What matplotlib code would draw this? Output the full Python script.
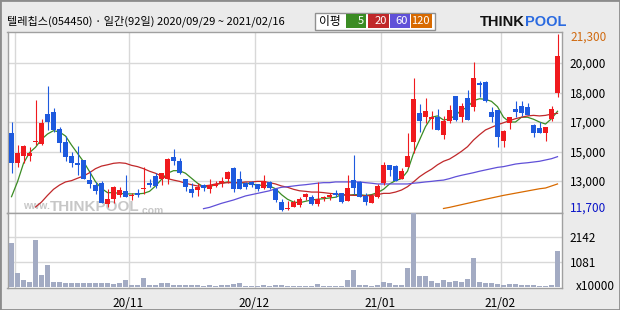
import numpy as np
import matplotlib.pyplot as plt
from matplotlib.patches import Rectangle
from matplotlib.transforms import blended_transform_factory, offset_copy

plt.rcParams['font.family'] = ['Noto Sans CJK KR', 'DejaVu Sans']

title = '텔레칩스(054450) · 일간(92일) 2020/09/29 ~ 2021/02/16'

# daily candles, 2020/09/29 .. 2021/02/16 (92 trading days)
opens = [15890, 14260, 14660, 14660, 15440, 15310, 16930, 17040, 16120, 15420,
         14660, 14290, 14440, 13350, 13080, 13180, 12050, 12310, 12520, 12740,
         12480, 12670, 12840, 13210, 13570, 13390, 13390, 14590, 14370, 13390,
         12880, 12810, 13070, 12880, 13030, 13180, 13430, 14000, 13390, 13180,
         13250, 13140, 12920, 13250, 12850, 12160, 11780, 11910, 12020, 12450,
         12420, 12050, 12360, 12450, 12670, 12630, 12230, 13350, 13250, 12490,
         12120, 12450, 13180, 14150, 14110, 13430, 14080, 15420, 17000, 16790,
         16680, 16760, 15810, 16570, 17910, 16790, 17800, 17300, 18630, 18670,
         17040, 17150, 15490, 16430, 17190, 17370, 17300, 16320, 16180, 15920,
         16650, 18090]
highs = [16500, 15250, 15250, 15130, 17690, 16650, 18450, 17260, 16250, 15740,
         14890, 15200, 14460, 13830, 13260, 13320, 12850, 13020, 12990, 13610,
         12670, 12880, 14080, 13390, 13750, 13750, 14550, 15050, 14550, 13400,
         13180, 13180, 13140, 13430, 13320, 13530, 13820, 14080, 13830, 13230,
         13320, 13140, 13610, 13320, 12880, 12310, 12200, 12270, 12420, 12670,
         12520, 13250, 12490, 12670, 12810, 12640, 13610, 14690, 13320, 12630,
         12600, 13140, 14330, 14180, 14180, 14000, 15920, 18890, 17480, 17800,
         17110, 17220, 16830, 17440, 17930, 17520, 18240, 19760, 18710, 18740,
         17330, 17160, 16040, 16770, 17660, 17660, 17550, 16390, 16500, 16230,
         17370, 21300]
lows = [13750, 14080, 14290, 14400, 15250, 15280, 16070, 15970, 14870, 14400,
        14080, 13610, 13400, 12920, 12600, 12100, 11910, 12120, 12420, 12420,
        12270, 12420, 12600, 12960, 12920, 13070, 13140, 14150, 13680, 12740,
        12450, 12490, 12770, 12670, 12960, 12990, 13210, 12700, 12850, 12880,
        12990, 12770, 12850, 12850, 12160, 11700, 11730, 11870, 11870, 12270,
        12020, 11940, 12230, 12270, 12450, 12120, 12200, 12600, 12430, 11980,
        12100, 12380, 13070, 13570, 13300, 13400, 14050, 14840, 15960, 16460,
        16140, 16050, 15560, 16430, 16570, 16500, 16590, 17110, 17840, 17600,
        16500, 15130, 15130, 16100, 16760, 16830, 16880, 15670, 15900, 15490,
        16540, 17870]
closes = [14260, 14800, 15200, 14840, 15470, 16460, 16500, 16070, 15380, 14620,
          14260, 14180, 13430, 13140, 12770, 12120, 12310, 12990, 12810, 12450,
          12490, 12520, 12850, 13100, 13030, 13720, 14510, 14370, 13750, 12960,
          12670, 12990, 12920, 13070, 13140, 13280, 13790, 12880, 12880, 12960,
          13070, 12880, 13280, 12920, 12270, 11730, 11800, 12160, 12310, 12600,
          12050, 12310, 12380, 12560, 12560, 12160, 12920, 12920, 12450, 12160,
          12490, 13030, 14180, 13900, 13320, 13830, 14660, 17760, 16570, 17080,
          16790, 16070, 16570, 17150, 16610, 17370, 16610, 18890, 18490, 17620,
          16790, 15700, 16030, 16760, 17040, 17000, 16900, 15890, 15920, 16210,
          17190, 20080]
# volume in units of 10,000 shares
volume = [1923, 612, 291, 204, 2040, 524, 961, 219, 219, 146,
          175, 175, 175, 175, 146, 175, 175, 117, 146, 291,
          87, 87, 393, 87, 87, 175, 175, 87, 87, 87,
          87, 87, 29, 87, 29, 87, 87, 117, 175, 29,
          29, 29, 87, 29, 87, 87, 29, 29, 29, 29,
          29, 117, 29, 29, 29, 29, 291, 728, 73, 73,
          29, 73, 204, 146, 87, 87, 816, 3213, 466, 466,
          233, 175, 291, 204, 233, 204, 335, 1253, 204, 175,
          175, 117, 87, 117, 117, 87, 87, 87, 29, 29,
          87, 1573]

# moving averages as drawn on the chart
ma5 = [12450, 13260, 14260, 14840, 15130, 15560, 15850, 16030, 15960, 15740,
       15250, 14800, 14350, 13810, 13260, 12900, 12670, 12670, 12630, 12600,
       12600, 12600, 12630, 12740, 13030, 13390, 13720, 13860, 13860, 13720,
       13450, 13180, 12990, 12990, 13100, 13180, 13250, 13210, 13210, 13180,
       13140, 13070, 13070, 13030, 12880, 12560, 12310, 12160, 12120, 12200,
       12270, 12310, 12340, 12380, 12420, 12560, 12520, 12560, 12560, 12520,
       12560, 12670, 12850, 13140, 13320, 13430, 13830, 14800, 15520, 16250,
       16760, 16830, 16610, 16660, 16860, 17150, 17300, 17660, 17760, 17730,
       17620, 17330, 16760, 16500, 16500, 16760, 16760, 16650, 16500, 16390,
       16680, 17080]
ma20_start = 4
ma20 = [11890, 12160, 12520, 12850, 13080, 13250, 13320, 13450, 13570, 13750,
        13970, 14110, 14180, 14260, 14290, 14260, 14150, 14080, 13970, 13830,
        13720, 13570, 13430, 13350, 13280, 13180, 13100, 13030, 13030, 13070,
        13140, 13180, 13210, 13210, 13210, 13250, 13250, 13280, 13280, 13210,
        13140, 13030, 12960, 12850, 12770, 12740, 12700, 12700, 12670, 12630,
        12600, 12560, 12540, 12520, 12520, 12490, 12520, 12560, 12630, 12630,
        12700, 12810, 12990, 13250, 13530, 13750, 13940, 14180, 14370, 14490,
        14690, 14910, 15160, 15520, 15810, 16070, 16210, 16350, 16460, 16570,
        16680, 16760, 16830, 16860, 16830, 16860, 16930, 16970]
ma60_start = 32
ma60 = [11800, 11870, 11980, 12090, 12180, 12270, 12380, 12490, 12560, 12630,
        12700, 12770, 12880, 12960, 12990, 13030, 13070, 13100, 13140, 13180,
        13210, 13210, 13250, 13250, 13250, 13250, 13250, 13210, 13180, 13140,
        13140, 13140, 13140, 13140, 13140, 13180, 13210, 13250, 13280, 13320,
        13350, 13430, 13530, 13610, 13680, 13750, 13830, 13900, 13970, 14040,
        14080, 14150, 14220, 14260, 14290, 14330, 14370, 14440, 14510, 14620]
ma120_idx = [72, 73, 76, 79, 82, 85, 88, 89, 90, 91]
ma120 = [11810, 11870, 12090, 12310, 12520, 12700, 12880, 12920, 13030, 13140]

month_idx = [1, 20, 41, 62, 82]
month_labels = ['', '20/11', '20/12', '21/01', '21/02']
price_grid = [13300, 14900, 16500, 18100, 19700]
price_grid_labels = ['13,000', '15,000', '17,000', '18,000', '20,000']
vol_grid = [1071, 2142]
vol_grid_labels = ['1081', '2142']

ma_names = ['5', '20', '60', '120']
ma_colors = ['#3b8c24', '#c0282a', '#6050d8', '#d86a00']
up_col, down_col = '#f01a1e', '#1e5ade'
grid_col = '#d8d8d8'
frame_col = '#a0a0a0'

W, H = 620, 310
def box(l, t, r, b):
    return [l / W, 1 - b / H, (r - l) / W, (b - t) / H]

fig = plt.figure(figsize=(6.2, 3.1), dpi=100, facecolor='#ebebeb')
ax = fig.add_axes(box(7.5, 31.5, 562, 212.7))
axv = fig.add_axes(box(7.5, 212.7, 562, 288.3), sharex=ax)

x = np.arange(len(closes))
o = np.array(opens); c = np.array(closes)
cols = [up_col if cc >= oo else down_col for oo, cc in zip(o, c)]
body_lo = np.minimum(o, c)
body_h = np.maximum(np.abs(c - o), 55)

# moving averages
ax.plot(x, ma5, color=ma_colors[0], lw=0.9, zorder=2)
ax.plot(np.arange(ma20_start, ma20_start + len(ma20)), ma20, color=ma_colors[1], lw=0.9, zorder=2)
ax.plot(np.arange(ma60_start, ma60_start + len(ma60)), ma60, color=ma_colors[2], lw=0.9, zorder=2)
ax.plot(ma120_idx, ma120, color=ma_colors[3], lw=0.9, zorder=2)

# candles
ax.vlines(x, lows, highs, colors=cols, lw=0.8, zorder=3)
ax.bar(x, body_h, bottom=body_lo, width=0.8, color=cols, lw=0, zorder=4)

# volume
axv.bar(x, volume, width=0.75, color='#a3abc3', lw=0, zorder=3)

ax.set_xlim(-0.67, 91.75)
ax.set_ylim(11581, 21409)
axv.set_ylim(-70, 3221)

for a in (ax, axv):
    a.set_facecolor('white')
    a.set_xticks(np.array(month_idx) - 0.5)
    a.grid(True, color=grid_col, lw=1.0, zorder=0)
    a.set_axisbelow(True)
    a.yaxis.tick_right()
    a.tick_params(length=0, labelsize=8.5, pad=5.5)
    for s in a.spines.values():
        s.set_color(frame_col)
        s.set_linewidth(1.0)

ax.set_yticks(price_grid, price_grid_labels)
ax.tick_params(axis='x', labelbottom=False)
axv.set_yticks(vol_grid, vol_grid_labels)
axv.set_xticklabels(month_labels)
axv.tick_params(axis='x', pad=6)

# max / min labels
bt = blended_transform_factory(ax.transAxes, ax.transData)
ax.text(1.0, max(highs), f'{max(highs):,}', color='#d06a10', fontsize=8.5, va='center', ha='left',
        transform=offset_copy(bt, fig=fig, x=8, y=-3.6, units='dots'))
ax.text(1.0, min(lows), f'{min(lows):,}', color='#0a14c8', fontsize=8.5, va='center', ha='left',
        transform=offset_copy(bt, fig=fig, x=8, y=2.5, units='dots'))
fig.text(576 / W, 1 - 286 / H, 'x10000', fontsize=8.5, va='center', ha='left')

# watermark, pieces chained one after another
def axf(px, py):
    return ((px - 7.5) / (562 - 7.5), (212.7 - py) / (212.7 - 31.5))
wm = dict(color='#9a9a9a', alpha=0.55, va='baseline', zorder=1, family='Liberation Sans',
          weight='bold')
t1 = ax.text(*axf(23, 209), 'www.', fontsize=7.5, transform=ax.transAxes, **wm)
t2 = ax.annotate('THINKPOOL', xy=(1, 0), xycoords=t1, fontsize=11, ha='left', **wm)
ax.annotate('.com', xy=(1, 0), xycoords=t2, fontsize=7.5, ha='left', **wm)

# title
fig.text(7 / W, 1 - 21 / H, title, fontsize=8, va='center', ha='left')

# MA legend box
fig.patches.append(Rectangle((315 / W, 1 - 29.5 / H), 120 / W, 17 / H, transform=fig.transFigure,
                             fc='white', ec='#909090', lw=1))
fig.text(330 / W, 1 - 21 / H, '이평', fontsize=8.5, va='center', ha='center')
lx = [346, 368, 390, 411]
lw_ = [20, 21, 20, 21]
for name, col, l, w in zip(ma_names, ma_colors, lx, lw_):
    fig.patches.append(Rectangle((l / W, 1 - 27.5 / H), w / W, 13 / H, transform=fig.transFigure,
                                 fc=col, ec='none'))
    fig.text((l + w - 2) / W, 1 - 21 / H, name, fontsize=8, color='white', va='center', ha='right')

# logo
lg = fig.text(480 / W, 1 - 21.5 / H, 'THINK', fontsize=10.5, weight='bold', va='center', ha='left',
              family='Liberation Sans', color='#111111')
fig.add_artist(plt.Annotation('POOL', xy=(1, 0.5), xycoords=lg, va='center', ha='left',
                              fontsize=10.5, weight='bold', family='Liberation Sans',
                              color='#2a6ae0'))

# outer frame
fig.patches.append(Rectangle((0, 0), 1, 1, transform=fig.transFigure, fill=False,
                             ec='#8c8c8c', lw=2))

fig.savefig('out.png', dpi=100, facecolor=fig.get_facecolor())
